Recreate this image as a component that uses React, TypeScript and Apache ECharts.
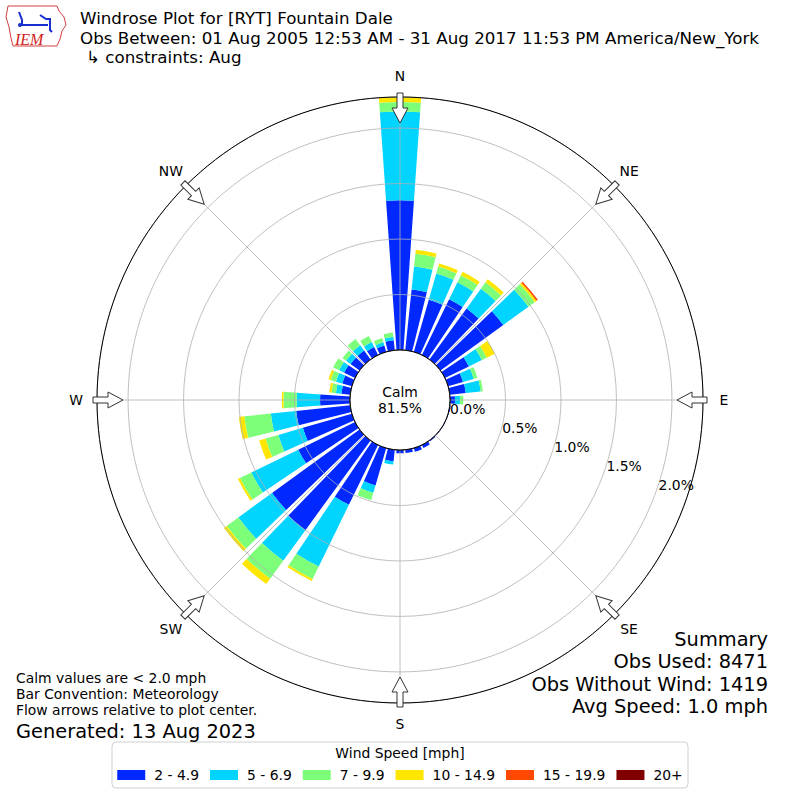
import React, { useEffect, useRef } from "react";
import * as echarts from "echarts";

// ---------- data ----------
const directions = [0, 10, 20, 30, 40, 50, 60, 70, 80, 90, 100, 110, 120, 130, 140, 150, 160, 170, 180, 190, 200, 210, 220, 230, 240, 250, 260, 270, 280, 290, 300, 310, 320, 330, 340, 350];
const speedBins = ["2 - 4.9", "5 - 6.9", "7 - 9.9", "10 - 14.9", "15 - 19.9", "20+"];
const binColors = ["#0028ff", "#00d4ff", "#7dff7a", "#ffe600", "#ff4800", "#800000"];

const speed2to5 = [1.35, 0.55, 0.49, 0.56, 0.57, 0.70, 0.24, 0.14, 0.145, 0.045, 0.01, 0.005, 0.005, 0.005, 0.01, 0.03, 0.035, 0.03, 0.03, 0.105, 0.35, 0.60, 1.00, 0.975, 0.57, 0.46, 0.49, 0.27, 0.08, 0.09, 0.11, 0.10, 0.10, 0.08, 0.06, 0.09];
const speed5to7 = [0.80, 0.21, 0.245, 0.17, 0.22, 0.28, 0.13, 0.10, 0.135, 0.045, 0, 0, 0, 0, 0, 0, 0, 0, 0, 0.03, 0.07, 0.62, 0.34, 0.375, 0.47, 0.23, 0.23, 0.21, 0.05, 0.06, 0.05, 0.05, 0.06, 0.05, 0.03, 0.03];
const speed7to10 = [0.085, 0.115, 0.065, 0.07, 0.07, 0.07, 0.05, 0.035, 0.02, 0.03, 0, 0, 0, 0, 0, 0, 0, 0, 0, 0, 0.07, 0.125, 0.20, 0.13, 0.115, 0.12, 0.24, 0.12, 0.04, 0.05, 0.06, 0.04, 0.07, 0.06, 0.04, 0.04];
const speed10to15 = [0.045, 0.035, 0.03, 0.035, 0.035, 0.02, 0.08, 0, 0, 0, 0, 0, 0, 0, 0, 0, 0, 0, 0, 0, 0, 0.02, 0.06, 0.03, 0.02, 0.06, 0.05, 0.015, 0.02, 0.02, 0, 0, 0, 0, 0, 0];
const speed15to20 = [0, 0, 0, 0, 0, 0.015, 0, 0, 0, 0, 0, 0, 0, 0, 0, 0, 0, 0, 0, 0, 0, 0, 0, 0, 0, 0, 0, 0, 0, 0, 0, 0, 0, 0, 0, 0];
const speed20plus = [0, 0, 0, 0, 0, 0, 0, 0, 0, 0, 0, 0, 0, 0, 0, 0, 0, 0, 0, 0, 0, 0, 0, 0, 0, 0, 0, 0, 0, 0, 0, 0, 0, 0, 0, 0];

const radialMax = 2.28;
const radialInterval = 0.5;
const compassLabels = ["N", "NE", "E", "SE", "S", "SW", "W", "NW"];
const calmPercent = "81.5%";

const titleLines = [
  "Windrose Plot for [RYT] Fountain Dale",
  "Obs Between: 01 Aug 2005 12:53 AM - 31 Aug 2017 11:53 PM America/New_York",
  "↳ constraints: Aug",
];
const noteLines = ["Calm values are < 2.0 mph", "Bar Convention: Meteorology", "Flow arrows relative to plot center."];
const generatedText = "Generated: 13 Aug 2023";
const summaryLines = ["Summary", "Obs Used: 8471", "Obs Without Wind: 1419", "Avg Speed: 1.0 mph"];
const legendTitle = "Wind Speed [mph]";

// ---------- layout ----------
const CX = 400;
const CY = 400;
const R_IN = 50;
const R_OUT = 303;
const FONT = "'DejaVu Sans', 'Liberation Sans', sans-serif";
const SMALL = 13.9;
const MID = 16.7;
const BIG = 19.4;

const seriesData = [speed2to5, speed5to7, speed7to10, speed10to15, speed15to20, speed20plus];

function buildGraphics() {
  const els: any[] = [];
  // calm circle
  els.push({
    type: "circle",
    z: 100,
    shape: { cx: CX, cy: CY, r: R_IN },
    style: { fill: "#ffffff", stroke: "#000000", lineWidth: 1 },
  });
  els.push({
    type: "text",
    z: 101,
    style: { text: "Calm", x: CX, y: CY - 8, textAlign: "center", textVerticalAlign: "middle", font: `${SMALL}px ${FONT}`, fill: "#000" },
  });
  els.push({
    type: "text",
    z: 101,
    style: { text: calmPercent, x: CX, y: CY + 8, textAlign: "center", textVerticalAlign: "middle", font: `${SMALL}px ${FONT}`, fill: "#000" },
  });
  // arrows + compass labels
  compassLabels.forEach((lab, k) => {
    const d = (k * 45 * Math.PI) / 180;
    const ra = 292;
    els.push({
      type: "polygon",
      z: 100,
      x: CX + ra * Math.sin(d),
      y: CY - ra * Math.cos(d),
      rotation: -d,
      shape: {
        points: [[-3, -15], [3, -15], [3, 0], [8, 0], [0, 15], [-8, 0], [-3, 0]],
      },
      style: { fill: "#ffffff", stroke: "#333333", lineWidth: 1 },
    });
    const rl = 324;
    els.push({
      type: "text",
      z: 100,
      style: {
        text: lab,
        x: CX + rl * Math.sin(d),
        y: CY - rl * Math.cos(d),
        textAlign: "center",
        textVerticalAlign: "middle",
        font: `${SMALL}px ${FONT}`,
        fill: "#000",
      },
    });
  });
  // title
  titleLines.forEach((t, i) => {
    els.push({
      type: "text",
      style: { text: t, x: i === 2 ? 86 : 80, y: 18 + i * 19.5, textAlign: "left", textVerticalAlign: "middle", font: `${MID}px ${FONT}`, fill: "#000" },
    });
  });
  // logo
  els.push({
    type: "polygon",
    shape: { points: [[8, 6], [57, 6], [59, 11], [64, 17], [66, 25], [62, 31], [60, 39], [57, 46], [13, 46], [11, 38], [9, 27], [6, 17], [8, 6]] },
    style: { fill: "#ffffff", stroke: "#d04040", lineWidth: 1 },
  });
  els.push({
    type: "polyline",
    shape: { points: [[19, 12], [22, 20], [22, 25], [48, 25]] },
    style: { stroke: "#1a2fd0", lineWidth: 2, fill: null },
  });
  els.push({
    type: "polyline",
    shape: { points: [[40, 15], [46, 19], [50, 19], [50, 24], [50, 30], [52, 32]] },
    style: { stroke: "#1a2fd0", lineWidth: 2, fill: null },
  });
  els.push({ type: "circle", shape: { cx: 20, cy: 25, r: 2 }, style: { fill: "#1a2fd0" } });
  els.push({
    type: "text",
    style: { text: "IEM", x: 15, y: 39, textAlign: "left", textVerticalAlign: "middle", font: `italic 16px 'Liberation Serif', serif`, fill: "#d02020" },
  });
  // notes
  noteLines.forEach((t, i) => {
    els.push({
      type: "text",
      style: { text: t, x: 16, y: 678 + i * 16, textAlign: "left", textVerticalAlign: "middle", font: `${SMALL}px ${FONT}`, fill: "#000" },
    });
  });
  els.push({
    type: "text",
    style: { text: generatedText, x: 16, y: 731, textAlign: "left", textVerticalAlign: "middle", font: `${BIG}px ${FONT}`, fill: "#000" },
  });
  summaryLines.forEach((t, i) => {
    els.push({
      type: "text",
      style: { text: t, x: 768, y: 639 + i * 22.5, textAlign: "right", textVerticalAlign: "middle", font: `${BIG}px ${FONT}`, fill: "#000" },
    });
  });
  // legend box
  els.push({
    type: "rect",
    z: -1,
    shape: { x: 112, y: 742, width: 576, height: 46, r: 4 },
    style: { fill: "#ffffff", stroke: "#d0d0d0", lineWidth: 1 },
  });
  els.push({
    type: "text",
    style: { text: legendTitle, x: 400, y: 753, textAlign: "center", textVerticalAlign: "middle", font: `${SMALL}px ${FONT}`, fill: "#000" },
  });
  return els;
}

export default function App() {
  const ref = useRef<HTMLDivElement>(null);
  useEffect(() => {
    if (!ref.current) return;
    const chart = echarts.init(ref.current, null, { renderer: "svg" });
    const hidden = {
      axisLine: { show: false },
      axisTick: { show: false },
      axisLabel: { show: false },
      splitLine: { show: false },
    };
    const option: any = {
      animation: false,
      backgroundColor: "#ffffff",
      polar: [
        { center: [CX, CY], radius: [R_IN, R_OUT] },
        { center: [CX, CY], radius: [R_IN, R_OUT] },
        { center: [CX, CY], radius: [R_IN, R_OUT] },
      ],
      angleAxis: [
        { polarIndex: 0, type: "category", data: directions.map(String), startAngle: 95, clockwise: true, ...hidden },
        {
          polarIndex: 1,
          type: "value",
          min: 0,
          max: 360,
          interval: 45,
          startAngle: 90,
          clockwise: true,
          z: 5,
          axisLine: { show: true, lineStyle: { color: "#000000", width: 1 } },
          axisTick: { show: false },
          axisLabel: { show: false },
          splitLine: { show: true, lineStyle: { color: "#b0b0b0", width: 0.8 } },
        },
        { polarIndex: 2, type: "value", min: 0, max: 360, startAngle: -20, clockwise: true, ...hidden },
      ],
      radiusAxis: [
        { polarIndex: 0, type: "value", min: 0, max: radialMax, ...hidden },
        {
          polarIndex: 1,
          type: "value",
          min: 0,
          max: radialMax,
          interval: radialInterval,
          z: 5,
          axisLine: { show: false },
          axisTick: { show: false },
          axisLabel: { show: false },
          splitLine: { show: true, lineStyle: { color: "#b0b0b0", width: 0.8 } },
        },
        {
          polarIndex: 2,
          type: "value",
          min: 0,
          max: radialMax,
          interval: radialInterval,
          z: 6,
          axisLine: { show: false },
          axisTick: { show: false },
          splitLine: { show: false },
          axisLabel: {
            show: true,
            margin: 9,
            color: "#000",
            fontSize: SMALL,
            fontFamily: FONT,
            formatter: (v: number) => {
              const k = v / radialInterval;
              return Math.abs(k - Math.round(k)) < 1e-6 ? v.toFixed(1) + "%" : "";
            },
          },
        },
      ],
      legend: {
        data: speedBins,
        left: "center",
        top: 763,
        icon: "rect",
        itemWidth: 28,
        itemHeight: 10,
        itemGap: 11,
        selectedMode: false,
        textStyle: { fontSize: SMALL, fontFamily: FONT, color: "#000", padding: [0, 0, 0, 4] },
      },
      series: speedBins.map((name, i) => ({
        type: "bar",
        name,
        coordinateSystem: "polar",
        polarIndex: 0,
        stack: "wind",
        barWidth: "80%",
        data: seriesData[i],
        itemStyle: { color: binColors[i] },
        emphasis: { disabled: true },
        z: 2,
      })),
      graphic: { elements: buildGraphics() },
    };
    chart.setOption(option);
    return () => chart.dispose();
  }, []);
  return <div ref={ref} style={{ position: "absolute", left: 0, top: 0, width: 800, height: 800 }} />;
}
